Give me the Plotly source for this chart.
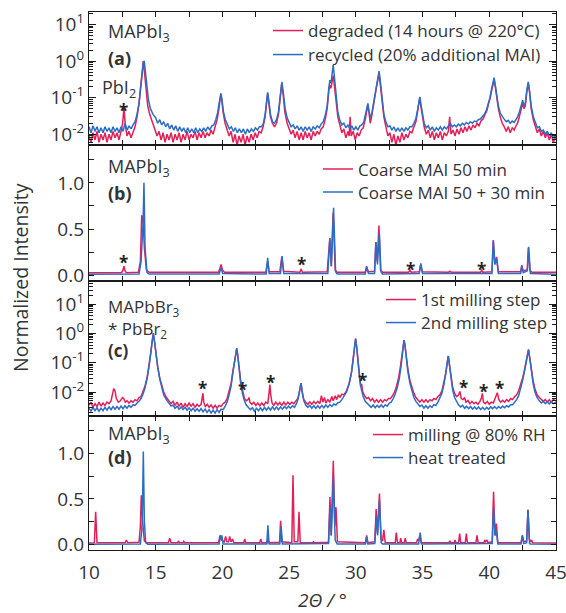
import plotly.graph_objects as go

# ---------------- data ----------------
# panel (a): MAPbI3, log scale
a_degraded = [
    (10.0, 0.009), (10.15, 0.006), (10.3, 0.011), (10.45, 0.007), (10.6, 0.012), (10.75, 0.006),
    (10.9, 0.010), (11.05, 0.007), (11.2, 0.011), (11.35, 0.006), (11.5, 0.010), (11.65, 0.007),
    (11.8, 0.012), (11.95, 0.008), (12.1, 0.011), (12.25, 0.007), (12.4, 0.012), (12.52, 0.02),
    (12.62, 0.052), (12.72, 0.018), (12.85, 0.009), (13.0, 0.012), (13.15, 0.008), (13.3, 0.012),
    (13.45, 0.016), (13.6, 0.03), (13.75, 0.07), (13.87, 0.2), (13.97, 0.5), (14.07, 1.0),
    (14.17, 0.45), (14.27, 0.15), (14.4, 0.06), (14.55, 0.035), (14.75, 0.02), (14.95, 0.013),
    (15.1, 0.009), (15.25, 0.012), (15.4, 0.007), (15.55, 0.011), (15.7, 0.006), (15.85, 0.010),
    (16.0, 0.007), (16.15, 0.011), (16.3, 0.006), (16.45, 0.010), (16.6, 0.007), (16.75, 0.011),
    (16.9, 0.006), (17.05, 0.010), (17.2, 0.007), (17.35, 0.012), (17.5, 0.007), (17.65, 0.010),
    (17.8, 0.008), (17.95, 0.012), (18.1, 0.007), (18.25, 0.011), (18.4, 0.008), (18.55, 0.012),
    (18.7, 0.008), (18.85, 0.011), (19.0, 0.009), (19.15, 0.013), (19.3, 0.01), (19.45, 0.016),
    (19.6, 0.025), (19.72, 0.045), (19.8, 0.09), (19.88, 0.13), (19.96, 0.08), (20.05, 0.04),
    (20.2, 0.02), (20.35, 0.013), (20.5, 0.009), (20.65, 0.012), (20.8, 0.006), (20.95, 0.010),
    (21.1, 0.005), (21.25, 0.009), (21.4, 0.006), (21.55, 0.010), (21.7, 0.005), (21.85, 0.009),
    (22.0, 0.006), (22.15, 0.010), (22.3, 0.007), (22.45, 0.011), (22.6, 0.008), (22.75, 0.012),
    (22.9, 0.011), (23.05, 0.016), (23.2, 0.03), (23.3, 0.07), (23.39, 0.13), (23.48, 0.07),
    (23.6, 0.03), (23.75, 0.02), (23.9, 0.016), (24.05, 0.02), (24.2, 0.035), (24.32, 0.09),
    (24.44, 0.24), (24.55, 0.12), (24.68, 0.04), (24.85, 0.02), (25.0, 0.014), (25.15, 0.010),
    (25.3, 0.013), (25.45, 0.008), (25.6, 0.012), (25.75, 0.007), (25.9, 0.011), (26.05, 0.007),
    (26.2, 0.012), (26.35, 0.008), (26.5, 0.011), (26.65, 0.007), (26.8, 0.012), (26.95, 0.009),
    (27.1, 0.012), (27.25, 0.010), (27.4, 0.014), (27.55, 0.016), (27.7, 0.025), (27.85, 0.05),
    (27.97, 0.15), (28.05, 0.22), (28.13, 0.18), (28.22, 0.3), (28.3, 0.4), (28.4, 0.2),
    (28.52, 0.07), (28.65, 0.03), (28.8, 0.018), (28.95, 0.011), (29.1, 0.014), (29.25, 0.008),
    (29.4, 0.012), (29.5, 0.009), (29.57, 0.03), (29.65, 0.009), (29.8, 0.012), (29.95, 0.007),
    (30.1, 0.011), (30.25, 0.009), (30.4, 0.013), (30.55, 0.015), (30.7, 0.025), (30.82, 0.05),
    (30.9, 0.065), (30.98, 0.04), (31.08, 0.02), (31.18, 0.03), (31.32, 0.06), (31.45, 0.15),
    (31.55, 0.2), (31.65, 0.3), (31.74, 0.45), (31.85, 0.2), (31.97, 0.07), (32.1, 0.03),
    (32.25, 0.016), (32.4, 0.009), (32.55, 0.011), (32.7, 0.006), (32.85, 0.010), (33.0, 0.005),
    (33.15, 0.009), (33.3, 0.006), (33.45, 0.011), (33.6, 0.007), (33.75, 0.010), (33.9, 0.008),
    (34.05, 0.012), (34.2, 0.011), (34.35, 0.016), (34.5, 0.022), (34.62, 0.04), (34.72, 0.08),
    (34.79, 0.1), (34.87, 0.06), (34.98, 0.03), (35.12, 0.016), (35.28, 0.010), (35.43, 0.013),
    (35.58, 0.008), (35.73, 0.012), (35.88, 0.007), (36.03, 0.011), (36.18, 0.008), (36.33, 0.012),
    (36.48, 0.007), (36.63, 0.011), (36.78, 0.009), (36.93, 0.012), (37.03, 0.03), (37.13, 0.01),
    (37.28, 0.013), (37.43, 0.009), (37.58, 0.014), (37.73, 0.010), (37.88, 0.015), (38.03, 0.011),
    (38.18, 0.016), (38.33, 0.012), (38.48, 0.017), (38.63, 0.013), (38.78, 0.018), (38.93, 0.015),
    (39.08, 0.02), (39.23, 0.017), (39.38, 0.023), (39.53, 0.026), (39.68, 0.035), (39.83, 0.045),
    (39.95, 0.07), (40.08, 0.1), (40.18, 0.16), (40.28, 0.26), (40.36, 0.3), (40.45, 0.2),
    (40.55, 0.1), (40.68, 0.05), (40.82, 0.03), (40.97, 0.02), (41.12, 0.016), (41.27, 0.012),
    (41.42, 0.016), (41.57, 0.011), (41.72, 0.015), (41.87, 0.013), (42.0, 0.017), (42.12, 0.02),
    (42.25, 0.03), (42.38, 0.05), (42.5, 0.07), (42.6, 0.05), (42.7, 0.06), (42.8, 0.13),
    (42.92, 0.25), (43.02, 0.14), (43.14, 0.05), (43.3, 0.025), (43.45, 0.016), (43.6, 0.011),
    (43.75, 0.014), (43.9, 0.009), (44.05, 0.012), (44.2, 0.008), (44.35, 0.011), (44.5, 0.007),
    (44.65, 0.010), (44.8, 0.006), (45.0, 0.009),
]
a_recycled = [
    (10.0, 0.016), (10.15, 0.011), (10.3, 0.017), (10.45, 0.012), (10.6, 0.016), (10.75, 0.011),
    (10.9, 0.015), (11.05, 0.011), (11.2, 0.016), (11.35, 0.012), (11.5, 0.015), (11.65, 0.011),
    (11.8, 0.016), (11.95, 0.012), (12.1, 0.015), (12.25, 0.011), (12.4, 0.016), (12.55, 0.012),
    (12.7, 0.02), (12.85, 0.013), (13.0, 0.017), (13.15, 0.014), (13.3, 0.018), (13.45, 0.022),
    (13.6, 0.035), (13.75, 0.07), (13.87, 0.18), (13.97, 0.45), (14.08, 0.95), (14.14, 1.0),
    (14.22, 0.5), (14.32, 0.2), (14.45, 0.09), (14.6, 0.05), (14.8, 0.035), (15.0, 0.028),
    (15.15, 0.02), (15.3, 0.025), (15.45, 0.018), (15.6, 0.022), (15.75, 0.016), (15.9, 0.02),
    (16.05, 0.014), (16.2, 0.018), (16.35, 0.013), (16.5, 0.017), (16.65, 0.012), (16.8, 0.016),
    (16.95, 0.012), (17.1, 0.015), (17.25, 0.011), (17.4, 0.015), (17.55, 0.011), (17.7, 0.014),
    (17.85, 0.011), (18.0, 0.015), (18.15, 0.011), (18.3, 0.014), (18.45, 0.012), (18.6, 0.015),
    (18.75, 0.012), (18.9, 0.016), (19.05, 0.013), (19.2, 0.017), (19.35, 0.018), (19.5, 0.025),
    (19.65, 0.04), (19.75, 0.07), (19.83, 0.11), (19.9, 0.13), (19.98, 0.08), (20.08, 0.04),
    (20.22, 0.025), (20.37, 0.018), (20.52, 0.014), (20.67, 0.016), (20.82, 0.012), (20.97, 0.015),
    (21.12, 0.011), (21.27, 0.014), (21.42, 0.011), (21.57, 0.014), (21.72, 0.010), (21.87, 0.014),
    (22.02, 0.011), (22.17, 0.014), (22.32, 0.012), (22.47, 0.015), (22.62, 0.013), (22.77, 0.016),
    (22.92, 0.016), (23.07, 0.02), (23.2, 0.035), (23.3, 0.07), (23.39, 0.14), (23.48, 0.08),
    (23.6, 0.035), (23.75, 0.022), (23.9, 0.02), (24.05, 0.025), (24.2, 0.04), (24.32, 0.1),
    (24.46, 0.27), (24.57, 0.13), (24.7, 0.05), (24.85, 0.028), (25.0, 0.02), (25.15, 0.016),
    (25.3, 0.018), (25.45, 0.014), (25.6, 0.017), (25.75, 0.013), (25.9, 0.016), (26.05, 0.012),
    (26.2, 0.016), (26.35, 0.013), (26.5, 0.016), (26.65, 0.012), (26.8, 0.016), (26.95, 0.014),
    (27.1, 0.017), (27.25, 0.015), (27.4, 0.019), (27.55, 0.022), (27.7, 0.032), (27.85, 0.06),
    (27.97, 0.18), (28.05, 0.3), (28.14, 0.25), (28.22, 0.5), (28.3, 0.78), (28.4, 0.35),
    (28.52, 0.1), (28.65, 0.04), (28.8, 0.024), (28.95, 0.018), (29.1, 0.02), (29.25, 0.015),
    (29.4, 0.018), (29.55, 0.014), (29.7, 0.017), (29.85, 0.013), (30.0, 0.016), (30.15, 0.013),
    (30.3, 0.017), (30.45, 0.018), (30.6, 0.022), (30.72, 0.035), (30.83, 0.06), (30.9, 0.07),
    (30.98, 0.045), (31.08, 0.028), (31.18, 0.035), (31.32, 0.07), (31.45, 0.16), (31.55, 0.22),
    (31.65, 0.35), (31.74, 0.53), (31.85, 0.25), (31.97, 0.08), (32.1, 0.035), (32.25, 0.022),
    (32.4, 0.016), (32.55, 0.017), (32.7, 0.013), (32.85, 0.016), (33.0, 0.012), (33.15, 0.015),
    (33.3, 0.012), (33.45, 0.015), (33.6, 0.012), (33.75, 0.015), (33.9, 0.013), (34.05, 0.016),
    (34.2, 0.016), (34.35, 0.02), (34.5, 0.027), (34.62, 0.045), (34.72, 0.085), (34.8, 0.105),
    (34.88, 0.065), (34.98, 0.035), (35.12, 0.02), (35.28, 0.015), (35.43, 0.017), (35.58, 0.013),
    (35.73, 0.016), (35.88, 0.012), (36.03, 0.015), (36.18, 0.013), (36.33, 0.016), (36.48, 0.013),
    (36.63, 0.016), (36.78, 0.014), (36.93, 0.017), (37.08, 0.02), (37.23, 0.016), (37.38, 0.018),
    (37.53, 0.016), (37.68, 0.019), (37.83, 0.017), (37.98, 0.02), (38.13, 0.018), (38.28, 0.021),
    (38.43, 0.019), (38.58, 0.022), (38.73, 0.02), (38.88, 0.023), (39.03, 0.022), (39.18, 0.025),
    (39.33, 0.026), (39.48, 0.03), (39.63, 0.035), (39.78, 0.045), (39.92, 0.065), (40.05, 0.1),
    (40.17, 0.17), (40.27, 0.28), (40.36, 0.35), (40.45, 0.22), (40.55, 0.11), (40.68, 0.06),
    (40.82, 0.038), (40.97, 0.03), (41.12, 0.026), (41.27, 0.022), (41.42, 0.024), (41.57, 0.02),
    (41.72, 0.023), (41.87, 0.021), (42.0, 0.025), (42.12, 0.03), (42.25, 0.04), (42.38, 0.06),
    (42.5, 0.085), (42.6, 0.06), (42.7, 0.07), (42.8, 0.15), (42.92, 0.27), (43.02, 0.15),
    (43.14, 0.06), (43.3, 0.03), (43.45, 0.02), (43.6, 0.015), (43.75, 0.016), (43.9, 0.012),
    (44.05, 0.013), (44.2, 0.01), (44.35, 0.012), (44.5, 0.009), (44.65, 0.011), (44.8, 0.008),
    (45.0, 0.009),
]

# panel (b): MAPbI3, linear scale
b_coarse50 = [
    (10.0, 0.03), (12.45, 0.03), (12.55, 0.06), (12.62, 0.1), (12.7, 0.05), (12.8, 0.03),
    (13.7, 0.035), (13.85, 0.15), (13.95, 0.65), (14.05, 0.6), (14.15, 0.3), (14.3, 0.06),
    (14.5, 0.035), (19.7, 0.035), (19.82, 0.08), (19.9, 0.12), (20.0, 0.06), (20.15, 0.035),
    (23.25, 0.035), (23.39, 0.15), (23.5, 0.04), (24.3, 0.04), (24.45, 0.2), (24.58, 0.045),
    (25.8, 0.035), (25.9, 0.07), (26.0, 0.035), (27.85, 0.04), (28.05, 0.4), (28.15, 0.1),
    (28.3, 0.68), (28.45, 0.06), (28.6, 0.035), (30.7, 0.035), (30.8, 0.1), (30.92, 0.04),
    (31.4, 0.045), (31.5, 0.36), (31.6, 0.15), (31.73, 0.54), (31.85, 0.06), (32.0, 0.035),
    (33.95, 0.035), (34.06, 0.055), (34.15, 0.035), (34.75, 0.04), (34.86, 0.11), (34.98, 0.04),
    (36.95, 0.035), (37.05, 0.045), (37.15, 0.035), (39.35, 0.035), (39.43, 0.055), (39.52, 0.035),
    (40.2, 0.04), (40.3, 0.38), (40.42, 0.12), (40.55, 0.2), (40.68, 0.04), (42.35, 0.04),
    (42.43, 0.11), (42.53, 0.05), (42.85, 0.06), (42.93, 0.3), (43.05, 0.05), (43.2, 0.035),
    (45.0, 0.035),
]
b_coarse80 = [
    (10.0, 0.012), (13.75, 0.015), (13.9, 0.15), (13.98, 0.32), (14.05, 0.55), (14.12, 1.0),
    (14.2, 0.3), (14.35, 0.03), (14.5, 0.015), (19.75, 0.015), (19.9, 0.08), (20.02, 0.02),
    (23.28, 0.015), (23.39, 0.19), (23.5, 0.02), (24.35, 0.02), (24.47, 0.21), (24.6, 0.02),
    (27.9, 0.02), (28.05, 0.4), (28.17, 0.1), (28.33, 0.73), (28.48, 0.04), (28.6, 0.015),
    (30.7, 0.015), (30.82, 0.09), (30.95, 0.02), (31.4, 0.02), (31.5, 0.36), (31.62, 0.12),
    (31.76, 0.46), (31.88, 0.04), (32.0, 0.015), (34.75, 0.02), (34.87, 0.13), (35.0, 0.02),
    (40.2, 0.02), (40.3, 0.38), (40.42, 0.12), (40.55, 0.18), (40.68, 0.02), (42.35, 0.02),
    (42.44, 0.1), (42.55, 0.03), (42.85, 0.05), (42.95, 0.31), (43.08, 0.02), (45.0, 0.012),
]

# panel (c): MAPbBr3, log scale
c_step1 = [
    (10.0, 0.0035), (10.15, 0.0045), (10.3, 0.003), (10.45, 0.004), (10.6, 0.0032), (10.75, 0.0045),
    (10.9, 0.0033), (11.05, 0.0042), (11.2, 0.0035), (11.35, 0.0045), (11.5, 0.004), (11.65, 0.005),
    (11.75, 0.008), (11.85, 0.013), (11.95, 0.011), (12.05, 0.006), (12.2, 0.0045), (12.35, 0.005),
    (12.5, 0.0065), (12.6, 0.006), (12.72, 0.0045), (12.85, 0.005), (13.0, 0.0042), (13.15, 0.005),
    (13.3, 0.0045), (13.45, 0.0055), (13.6, 0.005), (13.75, 0.0065), (13.9, 0.007), (14.05, 0.01),
    (14.2, 0.016), (14.35, 0.03), (14.5, 0.08), (14.62, 0.2), (14.72, 0.5), (14.82, 1.0),
    (14.92, 0.5), (15.02, 0.2), (15.14, 0.08), (15.3, 0.03), (15.45, 0.016), (15.6, 0.01),
    (15.8, 0.0065), (16.0, 0.005), (16.15, 0.004), (16.3, 0.0048), (16.45, 0.0035), (16.6, 0.0045),
    (16.75, 0.0033), (16.9, 0.0042), (17.05, 0.003), (17.2, 0.004), (17.35, 0.0032), (17.5, 0.0042),
    (17.65, 0.0033), (17.8, 0.004), (17.95, 0.003), (18.1, 0.0038), (18.25, 0.0032), (18.4, 0.0038),
    (18.48, 0.006), (18.54, 0.009), (18.6, 0.0045), (18.72, 0.0032), (18.87, 0.0038), (19.0, 0.003),
    (19.15, 0.0036), (19.3, 0.0028), (19.45, 0.0035), (19.6, 0.0028), (19.75, 0.0035), (19.9, 0.0032),
    (20.05, 0.004), (20.2, 0.0045), (20.35, 0.006), (20.5, 0.01), (20.65, 0.02), (20.78, 0.05),
    (20.9, 0.12), (21.0, 0.25), (21.07, 0.31), (21.15, 0.18), (21.25, 0.06), (21.38, 0.022),
    (21.5, 0.012), (21.57, 0.009), (21.65, 0.006), (21.8, 0.005), (21.92, 0.0055), (21.99, 0.0065),
    (22.06, 0.0045), (22.2, 0.0038), (22.35, 0.0045), (22.5, 0.0035), (22.65, 0.0042), (22.8, 0.0034),
    (22.95, 0.0042), (23.1, 0.0035), (23.25, 0.0045), (23.4, 0.004), (23.5, 0.009), (23.56, 0.018),
    (23.62, 0.008), (23.72, 0.0042), (23.85, 0.0035), (24.0, 0.0045), (24.15, 0.0036), (24.3, 0.0044),
    (24.45, 0.0035), (24.6, 0.0045), (24.75, 0.0036), (24.9, 0.0045), (25.05, 0.0038), (25.2, 0.0045),
    (25.35, 0.004), (25.5, 0.0048), (25.65, 0.006), (25.78, 0.011), (25.89, 0.02), (25.98, 0.01),
    (26.1, 0.0055), (26.25, 0.0045), (26.4, 0.0038), (26.55, 0.0046), (26.7, 0.0038), (26.85, 0.0048),
    (27.0, 0.004), (27.15, 0.0048), (27.3, 0.004), (27.42, 0.0075), (27.52, 0.0045), (27.65, 0.0065),
    (27.75, 0.0042), (27.9, 0.0055), (28.05, 0.0045), (28.2, 0.007), (28.3, 0.005), (28.45, 0.0075),
    (28.55, 0.0055), (28.7, 0.008), (28.8, 0.0065), (28.95, 0.0085), (29.1, 0.008), (29.3, 0.011),
    (29.5, 0.02), (29.68, 0.05), (29.8, 0.13), (29.9, 0.35), (29.98, 0.67), (30.06, 0.35),
    (30.16, 0.1), (30.28, 0.035), (30.36, 0.015), (30.43, 0.019), (30.52, 0.01), (30.65, 0.0075),
    (30.8, 0.006), (30.95, 0.0065), (31.1, 0.005), (31.25, 0.006), (31.4, 0.0045), (31.55, 0.0055),
    (31.7, 0.0045), (31.85, 0.0055), (32.0, 0.0045), (32.15, 0.0055), (32.3, 0.005), (32.45, 0.006),
    (32.6, 0.006), (32.75, 0.0075), (32.9, 0.01), (33.05, 0.016), (33.2, 0.03), (33.35, 0.08),
    (33.47, 0.2), (33.55, 0.4), (33.61, 0.59), (33.68, 0.4), (33.78, 0.16), (33.9, 0.06),
    (34.05, 0.025), (34.2, 0.014), (34.35, 0.009), (34.5, 0.0065), (34.65, 0.0055), (34.8, 0.0045),
    (34.95, 0.0055), (35.1, 0.0045), (35.25, 0.0055), (35.4, 0.0045), (35.55, 0.0055), (35.7, 0.005),
    (35.85, 0.006), (36.0, 0.0055), (36.15, 0.007), (36.3, 0.008), (36.45, 0.011), (36.6, 0.02),
    (36.75, 0.045), (36.85, 0.1), (36.93, 0.17), (37.01, 0.09), (37.12, 0.035), (37.25, 0.015),
    (37.4, 0.009), (37.55, 0.007), (37.7, 0.008), (37.8, 0.0105), (37.9, 0.006), (38.03, 0.0055),
    (38.15, 0.0065), (38.25, 0.0045), (38.4, 0.0052), (38.55, 0.004), (38.7, 0.0048), (38.85, 0.004),
    (39.0, 0.0045), (39.15, 0.0038), (39.3, 0.0048), (39.42, 0.0065), (39.48, 0.009), (39.56, 0.0045),
    (39.7, 0.004), (39.85, 0.0048), (40.0, 0.0038), (40.15, 0.0045), (40.3, 0.0042), (40.45, 0.006),
    (40.6, 0.0095), (40.72, 0.0055), (40.85, 0.0045), (41.0, 0.0052), (41.15, 0.0045), (41.3, 0.0055),
    (41.45, 0.0048), (41.6, 0.006), (41.75, 0.0055), (41.9, 0.007), (42.05, 0.008), (42.2, 0.011),
    (42.35, 0.017), (42.5, 0.03), (42.65, 0.06), (42.78, 0.14), (42.88, 0.24), (42.94, 0.28),
    (43.02, 0.16), (43.14, 0.06), (43.28, 0.025), (43.42, 0.013), (43.58, 0.008), (43.75, 0.0065),
    (43.9, 0.0055), (44.05, 0.0048), (44.2, 0.0055), (44.35, 0.0045), (44.5, 0.0055), (44.65, 0.0045),
    (44.8, 0.0055), (45.0, 0.005),
]
c_step2 = [
    (10.0, 0.0028), (10.15, 0.0022), (10.3, 0.003), (10.45, 0.0023), (10.6, 0.0029), (10.75, 0.0022),
    (10.9, 0.0028), (11.05, 0.0023), (11.2, 0.003), (11.35, 0.0024), (11.5, 0.0031), (11.65, 0.0025),
    (11.8, 0.0032), (11.95, 0.0026), (12.1, 0.0032), (12.25, 0.0026), (12.4, 0.0033), (12.55, 0.0027),
    (12.7, 0.0034), (12.85, 0.0028), (13.0, 0.0035), (13.15, 0.003), (13.3, 0.0037), (13.45, 0.0035),
    (13.6, 0.0042), (13.75, 0.0048), (13.9, 0.006), (14.05, 0.0085), (14.2, 0.014), (14.35, 0.028),
    (14.5, 0.075), (14.62, 0.2), (14.72, 0.5), (14.82, 1.0), (14.92, 0.5), (15.02, 0.2),
    (15.14, 0.075), (15.3, 0.028), (15.45, 0.014), (15.6, 0.008), (15.8, 0.0055), (16.0, 0.004),
    (16.15, 0.0033), (16.3, 0.0036), (16.45, 0.0028), (16.6, 0.0033), (16.75, 0.0026), (16.9, 0.0031),
    (17.05, 0.0025), (17.2, 0.003), (17.35, 0.0024), (17.5, 0.0029), (17.65, 0.0023), (17.8, 0.0028),
    (17.95, 0.0022), (18.1, 0.0027), (18.25, 0.0022), (18.4, 0.0027), (18.55, 0.0021), (18.7, 0.0026),
    (18.85, 0.002), (19.0, 0.0025), (19.15, 0.0019), (19.3, 0.0024), (19.45, 0.0019), (19.6, 0.0025),
    (19.75, 0.002), (19.9, 0.0026), (20.05, 0.0025), (20.2, 0.0032), (20.35, 0.0045), (20.5, 0.008),
    (20.65, 0.016), (20.78, 0.045), (20.9, 0.11), (21.0, 0.25), (21.07, 0.31), (21.15, 0.17),
    (21.25, 0.055), (21.38, 0.018), (21.5, 0.009), (21.65, 0.005), (21.8, 0.0035), (21.95, 0.003),
    (22.1, 0.0025), (22.25, 0.0029), (22.4, 0.0022), (22.55, 0.0028), (22.7, 0.0023), (22.85, 0.0029),
    (23.0, 0.0023), (23.15, 0.003), (23.3, 0.0024), (23.45, 0.003), (23.6, 0.0024), (23.75, 0.0031),
    (23.9, 0.0025), (24.05, 0.0031), (24.2, 0.0025), (24.35, 0.0031), (24.5, 0.0026), (24.65, 0.0032),
    (24.8, 0.0027), (24.95, 0.0033), (25.1, 0.0028), (25.25, 0.0034), (25.4, 0.003), (25.55, 0.004),
    (25.68, 0.006), (25.8, 0.012), (25.89, 0.02), (25.98, 0.01), (26.1, 0.005), (26.25, 0.0035),
    (26.4, 0.003), (26.55, 0.0035), (26.7, 0.0028), (26.85, 0.0034), (27.0, 0.0028), (27.15, 0.0034),
    (27.3, 0.0028), (27.45, 0.0035), (27.6, 0.0029), (27.75, 0.0036), (27.9, 0.003), (28.05, 0.0037),
    (28.2, 0.0032), (28.35, 0.0039), (28.5, 0.0036), (28.65, 0.0043), (28.8, 0.0045), (28.95, 0.0055),
    (29.1, 0.007), (29.3, 0.01), (29.5, 0.019), (29.68, 0.048), (29.8, 0.13), (29.9, 0.35),
    (29.98, 0.67), (30.06, 0.35), (30.16, 0.1), (30.28, 0.03), (30.4, 0.013), (30.55, 0.007),
    (30.7, 0.0048), (30.85, 0.004), (31.0, 0.0035), (31.15, 0.003), (31.3, 0.0036), (31.45, 0.0029),
    (31.6, 0.0035), (31.75, 0.003), (31.9, 0.0036), (32.05, 0.003), (32.2, 0.0037), (32.35, 0.0033),
    (32.5, 0.0042), (32.65, 0.0045), (32.8, 0.006), (32.95, 0.0085), (33.1, 0.014), (33.25, 0.028),
    (33.38, 0.07), (33.48, 0.19), (33.55, 0.4), (33.61, 0.59), (33.68, 0.4), (33.78, 0.15),
    (33.9, 0.05), (34.05, 0.02), (34.2, 0.01), (34.35, 0.0065), (34.5, 0.0048), (34.65, 0.0038),
    (34.8, 0.0032), (34.95, 0.0036), (35.1, 0.0028), (35.25, 0.0034), (35.4, 0.0028), (35.55, 0.0034),
    (35.7, 0.003), (35.85, 0.0037), (36.0, 0.0035), (36.15, 0.0045), (36.3, 0.006), (36.45, 0.009),
    (36.6, 0.018), (36.75, 0.042), (36.85, 0.1), (36.93, 0.17), (37.01, 0.09), (37.12, 0.03),
    (37.25, 0.012), (37.4, 0.0065), (37.55, 0.0045), (37.7, 0.0036), (37.85, 0.0031), (38.0, 0.0035),
    (38.15, 0.0028), (38.3, 0.0033), (38.45, 0.0027), (38.6, 0.0032), (38.75, 0.0026), (38.9, 0.0031),
    (39.05, 0.0026), (39.2, 0.0031), (39.35, 0.0025), (39.5, 0.003), (39.65, 0.0025), (39.8, 0.003),
    (39.95, 0.0026), (40.1, 0.0031), (40.25, 0.0027), (40.4, 0.0032), (40.55, 0.0027), (40.7, 0.0032),
    (40.85, 0.0028), (41.0, 0.0033), (41.15, 0.0029), (41.3, 0.0034), (41.45, 0.0031), (41.6, 0.0037),
    (41.75, 0.0037), (41.9, 0.0045), (42.05, 0.0055), (42.2, 0.0075), (42.35, 0.013), (42.5, 0.025),
    (42.65, 0.055), (42.78, 0.13), (42.88, 0.24), (42.94, 0.28), (43.02, 0.16), (43.14, 0.055),
    (43.28, 0.02), (43.42, 0.01), (43.58, 0.0065), (43.75, 0.005), (43.9, 0.0042), (44.05, 0.0048),
    (44.2, 0.004), (44.35, 0.0047), (44.5, 0.0039), (44.65, 0.0046), (44.8, 0.004), (45.0, 0.0045),
]

# panel (d): MAPbI3, linear scale
d_humid = [
    (10.0, 0.018), (10.4, 0.02), (10.5, 0.36), (10.6, 0.02), (12.7, 0.02), (12.8, 0.05), (12.9, 0.02),
    (13.75, 0.025), (13.85, 0.2), (13.92, 0.54), (14.02, 0.25), (14.15, 0.04), (14.3, 0.02),
    (15.95, 0.02), (16.05, 0.07), (16.15, 0.02), (16.65, 0.02), (16.7, 0.04), (16.78, 0.02),
    (17.05, 0.02), (17.1, 0.035), (17.17, 0.02), (19.7, 0.02), (19.82, 0.1), (19.92, 0.05),
    (20.02, 0.04), (20.14, 0.03), (20.24, 0.09), (20.34, 0.03), (20.46, 0.03), (20.54, 0.09),
    (20.64, 0.03), (20.7, 0.04), (20.76, 0.06), (20.85, 0.02), (21.6, 0.02), (21.67, 0.06),
    (21.75, 0.02), (22.8, 0.02), (22.87, 0.06), (22.95, 0.02), (23.35, 0.02), (23.41, 0.07),
    (23.48, 0.02), (24.28, 0.025), (24.36, 0.26), (24.45, 0.03), (25.2, 0.02), (25.29, 0.76),
    (25.38, 0.03), (25.65, 0.03), (25.74, 0.36), (25.83, 0.02), (26.75, 0.02), (26.82, 0.03),
    (26.9, 0.02), (27.95, 0.025), (28.06, 0.52), (28.15, 0.1), (28.31, 0.92), (28.42, 0.2),
    (28.51, 0.41), (28.62, 0.03), (30.72, 0.02), (30.81, 0.1), (30.9, 0.02), (31.42, 0.03),
    (31.52, 0.39), (31.62, 0.12), (31.77, 0.56), (31.88, 0.06), (32.0, 0.04), (32.1, 0.16),
    (32.2, 0.02), (32.95, 0.02), (33.03, 0.13), (33.12, 0.02), (33.3, 0.02), (33.36, 0.07),
    (33.43, 0.02), (33.63, 0.02), (33.7, 0.07), (33.77, 0.02), (34.55, 0.02), (34.63, 0.06),
    (34.7, 0.04), (34.8, 0.1), (34.9, 0.02), (36.98, 0.02), (37.05, 0.04), (37.12, 0.02),
    (37.37, 0.02), (37.43, 0.05), (37.5, 0.02), (37.7, 0.02), (37.78, 0.12), (37.86, 0.02),
    (38.2, 0.02), (38.28, 0.12), (38.36, 0.02), (39.0, 0.02), (39.08, 0.1), (39.16, 0.02),
    (39.6, 0.02), (39.66, 0.05), (39.74, 0.03), (39.83, 0.05), (39.9, 0.02), (40.22, 0.03),
    (40.32, 0.58), (40.43, 0.1), (40.53, 0.23), (40.64, 0.02), (42.38, 0.02), (42.48, 0.1),
    (42.58, 0.03), (42.8, 0.04), (42.9, 0.38), (43.0, 0.06), (43.12, 0.03), (43.17, 0.05),
    (43.25, 0.02), (45.0, 0.018),
]
d_heat = [
    (10.0, 0.004), (13.85, 0.005), (13.95, 0.15), (14.0, 0.3), (14.07, 1.02), (14.15, 0.25),
    (14.25, 0.02), (14.4, 0.004), (19.75, 0.005), (19.85, 0.1), (19.9, 0.06), (19.96, 0.1),
    (20.05, 0.005), (23.32, 0.005), (23.41, 0.21), (23.5, 0.005), (24.3, 0.005), (24.4, 0.2),
    (24.5, 0.005), (27.95, 0.01), (28.06, 0.41), (28.16, 0.1), (28.32, 0.74), (28.45, 0.05),
    (28.6, 0.005), (30.72, 0.005), (30.81, 0.08), (30.9, 0.005), (31.42, 0.01), (31.52, 0.3),
    (31.63, 0.1), (31.77, 0.49), (31.9, 0.02), (32.0, 0.005), (34.7, 0.005), (34.82, 0.13),
    (34.92, 0.005), (40.22, 0.01), (40.32, 0.41), (40.43, 0.1), (40.53, 0.15), (40.64, 0.005),
    (42.38, 0.005), (42.48, 0.1), (42.58, 0.01), (42.8, 0.02), (42.9, 0.38), (43.02, 0.01),
    (43.12, 0.005), (45.0, 0.004),
]

series_names = {
    "a_red": "degraded (14 hours @ 220°C)", "a_blue": "recycled (20% additional MAI)",
    "b_red": "Coarse MAI 50 min", "b_blue": "Coarse MAI 50 + 30 min",
    "c_red": "1st milling step", "c_blue": "2nd milling step",
    "d_red": "milling @ 80% RH", "d_blue": "heat treated",
}

# impurity markers (*): x positions (2θ) per panel
stars_a = [12.62]
stars_b = [12.62, 25.9, 34.1, 39.45]
stars_c = [18.54, 21.49, 23.61, 30.48, 38.03, 39.6, 40.8]

x_ticks = [10, 15, 20, 25, 30, 35, 40, 45]
log_tickvals = [0.01, 0.1, 1, 10]
log_ticktext = ["10<sup>-2</sup>", "10<sup>-1</sup>", "10<sup>0</sup>", "10<sup>1</sup>"]
lin_tickvals = [0.0, 0.5, 1.0]
lin_ticktext = ["0.0", "0.5", "1.0"]

# ---------------- styling ----------------
RED = "#E31F57"
BLUE = "#2C6DC3"
FONT = "Open Sans"
TXT = "#333333"
AX = "#1a1a1a"

# plot area in pixels: left 89, right 556, top 12, bottom 550
def py(px):
    return (550 - px) / 538

def pxx(px):
    return (px - 89) / 467

fig = go.Figure()

panels = [
    ("a", a_degraded, a_recycled, "x", "y"),
    ("b", b_coarse50, b_coarse80, "x2", "y2"),
    ("c", c_step1, c_step2, "x3", "y3"),
    ("d", d_humid, d_heat, "x4", "y4"),
]
# legend rows (pixel centre y) and left x for each panel
legend_rows = {"a": (31, 55, 268), "b": (169.5, 192.5, 318), "c": (300, 323, 381), "d": (435, 458, 368)}

lay = {}
li = 0
for key, red, blue, xa, ya in panels:
    r1, r2, lx = legend_rows[key]
    for data, col, nm, ry in ((red, RED, series_names[key + "_red"], r1),
                              (blue, BLUE, series_names[key + "_blue"], r2)):
        li += 1
        lname = "legend" if li == 1 else "legend%d" % li
        xs = [p[0] for p in data]
        ys = [p[1] for p in data]
        fig.add_trace(go.Scatter(x=xs, y=ys, mode="lines", name=nm, xaxis=xa, yaxis=ya,
                                 legend=lname, line=dict(color=col, width=1.5)))
        lay[lname] = dict(xanchor="left", yanchor="middle", x=pxx(lx), y=py(ry),
                          bgcolor="rgba(0,0,0,0)", font=dict(family=FONT, size=17, color=TXT),
                          itemwidth=30, tracegroupgap=0)

# domains (paper fractions of the plot area, bottom to top)
doms = {"d": [0.0, 0.249], "c": [0.249, 0.5], "b": [0.5, 0.753], "a": [0.753, 1.0]}

xcommon = dict(range=[10, 45], showline=True, linecolor=AX, linewidth=1.3, mirror="ticks",
               ticks="inside", ticklen=5, tickwidth=1.2, tickcolor=AX, dtick=5, tick0=10,
               minor=dict(ticks="inside", ticklen=5, tickwidth=1.2, tickcolor=AX, dtick=2.5),
               showgrid=False, zeroline=False)
for i, k in enumerate(["a", "b", "c", "d"]):
    n = "" if i == 0 else str(i + 1)
    xa = dict(xcommon, anchor="y" + n, domain=[0, 1], showticklabels=(k == "d"))
    if i > 0:
        xa["matches"] = "x"
    if k == "d":
        xa.update(tickvals=x_ticks, ticktext=[str(v) for v in x_ticks], automargin=False,
                  ticklabeloverflow="allow",
                  tickfont=dict(family=FONT, size=19, color=TXT), ticklabelstandoff=5,
                  title=dict(text="<i>2Θ / °</i>", font=dict(family=FONT, size=19, color=TXT), standoff=19))
    lay["xaxis" + n] = xa
    ya = dict(domain=doms[k], anchor="x" + n, showline=True, linecolor=AX, linewidth=1.3,
              mirror="ticks", ticks="inside", tickwidth=1.2, tickcolor=AX, showgrid=False,
              zeroline=False, tickfont=dict(family=FONT, size=19, color=TXT), ticklabelstandoff=0)
    if k in ("a", "c"):
        rng = [-2.29, 1.34] if k == "a" else [-2.82, 1.79]
        ya.update(type="log", range=rng, tickvals=log_tickvals, ticktext=log_ticktext, ticklen=7,
                  minor=dict(ticks="inside", ticklen=4, tickwidth=1, tickcolor=AX, dtick="D1"))
    else:
        ya.update(range=[-0.06, 1.41], tickvals=lin_tickvals, ticktext=lin_ticktext, ticklen=5,
                  minor=dict(ticks="inside", ticklen=5, tickwidth=1.2, tickcolor=AX, dtick=0.25, tick0=0))
    lay["yaxis" + n] = ya

fig.update_layout(width=566, height=613, margin=dict(l=89, r=10, t=12, b=63),
                  paper_bgcolor="white", plot_bgcolor="white", showlegend=True,
                  font=dict(family=FONT, color=TXT), **lay)

def note(text, px_y, size=18, bold=False, x=0.037):
    t = "<b>%s</b>" % text if bold else text
    fig.add_annotation(text=t, xref="paper", yref="paper", x=x, y=py(px_y),
                       xanchor="left", yanchor="middle", align="left", showarrow=False,
                       font=dict(family=FONT, size=size, color=TXT))

note("MAPbI<sub>3</sub>", 32)
note("(a)", 58, bold=True)
note("PbI<sub>2</sub>", 89, x=0.023)
note("MAPbI<sub>3</sub>", 167)
note("(b)", 193, bold=True)
note("MAPbBr<sub>3</sub><br>* PbBr<sub>2</sub><br><b>(c)</b>", 328, size=17)
note("MAPbI<sub>3</sub>", 434)
note("(d)", 457, bold=True)

def stars(xs, ys_px):
    for xv, yp in zip(xs, ys_px):
        fig.add_annotation(text="<b>*</b>", xref="x", yref="paper", x=xv, y=py(yp),
                           xanchor="center", yanchor="middle", showarrow=False, yshift=-4,
                           font=dict(family=FONT, size=17, color="#222222"))

stars(stars_a, [107])
stars(stars_b, [258, 260, 265, 265])
stars(stars_c, [384, 385, 378, 376, 383, 387, 384])

fig.add_annotation(text="Normalized Intensity", xref="paper", yref="paper",
                   x=pxx(20), y=py(278), textangle=-90,
                   xanchor="center", yanchor="middle", showarrow=False,
                   font=dict(family=FONT, size=19.5, color=TXT))

fig.write_html("out.html", config={"displayModeBar": False},
               post_script="document.body.style.margin='0';")
